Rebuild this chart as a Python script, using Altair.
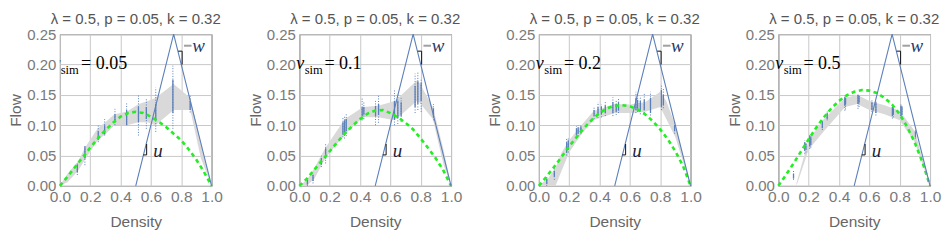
import altair as alt
import pandas as pd

TITLE = "λ = 0.5, p = 0.05, k = 0.32"
VSIM = ["0.05", "0.1", "0.2", "0.5"]

# density grid for the green (model) curves
X_GRID = [0.0, 0.05, 0.1, 0.15, 0.2, 0.25, 0.3, 0.35, 0.4, 0.45, 0.5,
          0.55, 0.6, 0.65, 0.7, 0.75, 0.8, 0.85, 0.9, 0.95, 1.0]
GREEN = [
    [0, 0.015, 0.031, 0.047, 0.063, 0.078, 0.092, 0.104, 0.114, 0.12, 0.122,
     0.12, 0.114, 0.106, 0.097, 0.086, 0.075, 0.06, 0.043, 0.023, 0],
    [0, 0.012, 0.027, 0.042, 0.057, 0.072, 0.086, 0.099, 0.11, 0.119, 0.124,
     0.125, 0.12, 0.113, 0.104, 0.093, 0.078, 0.062, 0.045, 0.025, 0],
    [0, 0.015, 0.031, 0.048, 0.065, 0.081, 0.096, 0.109, 0.12, 0.128, 0.132,
     0.133, 0.131, 0.126, 0.118, 0.107, 0.093, 0.077, 0.057, 0.033, 0],
    [0, 0.018, 0.037, 0.057, 0.077, 0.096, 0.113, 0.128, 0.14, 0.149, 0.155,
     0.158, 0.157, 0.153, 0.145, 0.134, 0.118, 0.097, 0.071, 0.039, 0],
]

# gray band (spread of simulated flow)
BAND_X = [
    [0, 0.05, 0.12, 0.17, 0.25, 0.3, 0.36, 0.44, 0.52, 0.58, 0.63, 0.75, 0.86, 0.93, 1.0],
    [0, 0.05, 0.1, 0.17, 0.3, 0.42, 0.52, 0.63, 0.78, 0.88, 0.95, 1.0],
    [0, 0.06, 0.11, 0.15, 0.2, 0.28, 0.36, 0.5, 0.6, 0.7, 0.8, 0.84, 0.9, 1.0],
    [0.12, 0.2, 0.3, 0.44, 0.52, 0.6, 0.7, 0.8, 0.9, 1.0],
]
BAND_LO = [
    [0, 0.006, 0.025, 0.045, 0.075, 0.085, 0.1, 0.1, 0.105, 0.105, 0.1, 0.125, 0.125, 0.045, 0],
    [0, 0, 0.012, 0.045, 0.085, 0.113, 0.113, 0.108, 0.141, 0.11, 0.035, 0],
    [0, 0, 0, 0.025, 0.055, 0.085, 0.108, 0.12, 0.12, 0.122, 0.13, 0.11, 0.08, 0],
    [0, 0.06, 0.09, 0.13, 0.135, 0.125, 0.118, 0.108, 0.072, 0],
]
BAND_HI = [
    [0, 0.02, 0.04, 0.065, 0.095, 0.105, 0.118, 0.122, 0.135, 0.14, 0.145, 0.168, 0.145, 0.07, 0],
    [0, 0.01, 0.03, 0.062, 0.11, 0.13, 0.132, 0.14, 0.175, 0.13, 0.06, 0],
    [0, 0.012, 0.03, 0.055, 0.075, 0.1, 0.123, 0.135, 0.134, 0.138, 0.155, 0.14, 0.1, 0],
    [0.005, 0.076, 0.11, 0.145, 0.15, 0.14, 0.133, 0.124, 0.09, 0],
]

# simulated points: density, full range (min/max) and dense core (lo/hi)
PT_X = [
    [0.115, 0.165, 0.253, 0.295, 0.363, 0.44, 0.518, 0.57, 0.632, 0.745, 0.859],
    [0.053, 0.09, 0.145, 0.173, 0.287, 0.298, 0.309, 0.414, 0.425, 0.502, 0.522,
     0.627, 0.649, 0.671, 0.763, 0.781, 0.803, 0.884],
    [0.052, 0.102, 0.183, 0.194, 0.248, 0.259, 0.277, 0.364, 0.39, 0.412, 0.438,
     0.488, 0.51, 0.525, 0.64, 0.651, 0.669, 0.695, 0.736, 0.808, 0.821, 0.895],
    [0.1, 0.174, 0.182, 0.207, 0.214, 0.29, 0.322, 0.438, 0.443, 0.525, 0.532,
     0.617, 0.643, 0.752, 0.758, 0.808, 0.815, 0.904],
]
PT_MIN = [
    [0.018, 0.034, 0.072, 0.083, 0.1, 0.1, 0.083, 0.094, 0.089, 0.094, 0.121],
    [0.0, 0.004, 0.031, 0.037, 0.08, 0.078, 0.082, 0.108, 0.11, 0.1, 0.104,
     0.1, 0.102, 0.105, 0.12, 0.125, 0.122, 0.108],
    [0.0, 0.01, 0.05, 0.055, 0.08, 0.082, 0.085, 0.11, 0.112, 0.113, 0.115,
     0.115, 0.117, 0.12, 0.12, 0.122, 0.118, 0.12, 0.116, 0.125, 0.128, 0.086],
    [0.01, 0.053, 0.055, 0.061, 0.063, 0.092, 0.108, 0.124, 0.126, 0.127, 0.13,
     0.122, 0.116, 0.111, 0.113, 0.111, 0.113, 0.078],
]
PT_MAX = [
    [0.039, 0.067, 0.1, 0.11, 0.127, 0.138, 0.149, 0.143, 0.162, 0.198, 0.149],
    [0.012, 0.02, 0.05, 0.07, 0.112, 0.116, 0.119, 0.146, 0.138, 0.14, 0.149,
     0.16, 0.15, 0.145, 0.185, 0.187, 0.178, 0.135],
    [0.015, 0.03, 0.078, 0.08, 0.098, 0.1, 0.102, 0.13, 0.138, 0.135, 0.14,
     0.146, 0.14, 0.145, 0.155, 0.15, 0.148, 0.152, 0.155, 0.168, 0.16, 0.105],
    [0.026, 0.075, 0.072, 0.086, 0.082, 0.108, 0.124, 0.149, 0.147, 0.152, 0.15,
     0.141, 0.141, 0.133, 0.13, 0.135, 0.132, 0.092],
]
PT_LO = [
    [0.022, 0.045, 0.075, 0.085, 0.105, 0.1, 0.105, 0.11, 0.11, 0.12, 0.125],
    [0.002, 0.008, 0.035, 0.045, 0.085, 0.087, 0.09, 0.115, 0.117, 0.115, 0.117,
     0.11, 0.112, 0.115, 0.13, 0.135, 0.14, 0.113],
    [0.003, 0.015, 0.055, 0.06, 0.083, 0.086, 0.088, 0.115, 0.117, 0.118, 0.12,
     0.12, 0.122, 0.124, 0.125, 0.127, 0.124, 0.125, 0.12, 0.13, 0.133, 0.09],
    [0.012, 0.058, 0.06, 0.065, 0.068, 0.095, 0.11, 0.132, 0.134, 0.135, 0.137,
     0.125, 0.12, 0.115, 0.117, 0.115, 0.117, 0.08],
]
PT_HI = [
    [0.035, 0.065, 0.09, 0.1, 0.118, 0.125, 0.13, 0.13, 0.135, 0.175, 0.14],
    [0.01, 0.018, 0.046, 0.062, 0.105, 0.108, 0.11, 0.13, 0.13, 0.132, 0.135,
     0.14, 0.14, 0.138, 0.165, 0.172, 0.17, 0.128],
    [0.012, 0.025, 0.072, 0.075, 0.095, 0.096, 0.098, 0.125, 0.13, 0.13, 0.133,
     0.138, 0.135, 0.138, 0.145, 0.142, 0.14, 0.142, 0.145, 0.158, 0.15, 0.1],
    [0.02, 0.072, 0.07, 0.082, 0.08, 0.106, 0.12, 0.146, 0.145, 0.15, 0.148,
     0.138, 0.138, 0.13, 0.128, 0.132, 0.13, 0.09],
]

# characteristic speeds: u (free flow) and -w (congestion) lines
TRI_X = [0.5, 0.75, 1.0]
TRI_Y = [0.0, 0.25, 0.0]

# callout leaders for u and -w, and the gray dash of "-w"
LEAD_X = [0.55, 0.572, 0.78, 0.806, 0.818]
LEAD_Y = [0.051, 0.051, 0.222, 0.222, 0.231]
LEAD_X2 = [0.572, 0.572, 0.806, 0.806, 0.868]
LEAD_Y2 = [0.051, 0.069, 0.222, 0.2, 0.231]
LEAD_C = ["#111111", "#111111", "#111111", "#111111", "#a0a0a0"]
LEAD_W = [1, 1, 1, 1, 2]

# v_sim label anchor per panel (x of "v", "sim", "= value")
LBL_V = [-0.05, -0.02, -0.02, -0.02]
LBL_SIM = [0.005, 0.035, 0.035, 0.035]
LBL_EQ = [0.14, 0.165, 0.165, 0.165]
LBL_Y = 0.192
LBL_SUB_Y = 0.185

BLUE = "#5b7fb9"
X_TICKS = [0.0, 0.2, 0.4, 0.6, 0.8, 1.0]
Y_TICKS = [0.0, 0.05, 0.1, 0.15, 0.2, 0.25]

xs = alt.Scale(domain=[0, 1], nice=False)
ys = alt.Scale(domain=[0, 0.25], nice=False)

AX_X = alt.Axis(
    values=X_TICKS, format=".1f", title="Density", grid=True,
    gridColor="#c8c8c8", ticks=False, domain=False,
    labelFontSize=15.5, labelColor="#7a7a7a", labelFont="Liberation Sans",
    labelPadding=4, labelFlush=False,
    titleFontSize=15.5, titleFontWeight="normal", titleColor="#666666",
    titleFont="Liberation Sans", titlePadding=9)
AX_Y = alt.Axis(
    values=Y_TICKS, format=".2f", title="Flow", grid=True,
    gridColor="#c8c8c8", ticks=False, domain=False,
    labelFontSize=15, labelColor="#7a7a7a", labelFont="Liberation Sans",
    labelPadding=4, labelFlush=False,
    titleFontSize=15.5, titleFontWeight="normal", titleColor="#666666",
    titleFont="Liberation Sans", titlePadding=3)


def X(f):
    return alt.X(f, scale=xs, axis=AX_X, title="Density")


def Y(f):
    return alt.Y(f, scale=ys, axis=AX_Y, title="Flow")


def panel(i):
    green = pd.DataFrame({"x": X_GRID, "y": GREEN[i]})
    band = pd.DataFrame({"x": BAND_X[i], "lo": BAND_LO[i], "hi": BAND_HI[i]})
    pts = pd.DataFrame({"x": PT_X[i], "mn": PT_MIN[i], "mx": PT_MAX[i],
                        "lo": PT_LO[i], "hi": PT_HI[i]})
    tri = pd.DataFrame({"x": TRI_X, "y": TRI_Y})
    lead = pd.DataFrame({"x": LEAD_X, "y": LEAD_Y, "x2": LEAD_X2, "y2": LEAD_Y2,
                         "c": LEAD_C, "w": LEAD_W})

    base_band = alt.Chart(band).mark_area(color="#d9d9d9", opacity=1).encode(
        x=X("x:Q"), y=Y("lo:Q"), y2="hi:Q")
    dots = alt.Chart(pts).mark_rule(color=BLUE, strokeWidth=1, strokeDash=[1, 1.6]).encode(
        x=X("x:Q"), y=Y("mn:Q"), y2="mx:Q")
    core = alt.Chart(pts).mark_rule(color=BLUE, strokeWidth=1.3).encode(
        x=X("x:Q"), y=Y("lo:Q"), y2="hi:Q")
    gline = alt.Chart(green).mark_line(color="#22ee22", strokeWidth=2.6,
                                       strokeDash=[4, 3.5], strokeCap="butt").encode(
        x=X("x:Q"), y=Y("y:Q"))
    tline = alt.Chart(tri).mark_line(color=BLUE, strokeWidth=1.1).encode(
        x=X("x:Q"), y=Y("y:Q"))
    leads = alt.Chart(lead).mark_rule().encode(
        x=X("x:Q"), x2="x2:Q", y=Y("y:Q"), y2="y2:Q",
        color=alt.Color("c:N", scale=None),
        strokeWidth=alt.StrokeWidth("w:Q", scale=None))

    ann = pd.DataFrame({
        "x": [0.615, 0.872],
        "y": [0.058, 0.231],
        "t": ["u", "w"],
        "c": ["#1c1c3a", "#2a3a6a"],
    })
    ann_t = alt.Chart(ann).mark_text(
        font="Liberation Serif", fontStyle="italic", fontSize=19,
        align="left", baseline="middle").encode(
        x=X("x:Q"), y=Y("y:Q"),
        text="t:N", color=alt.Color("c:N", scale=None))

    clip = (i == 0)
    lbl_v = alt.Chart(pd.DataFrame({"x": [LBL_V[i]], "y": [LBL_Y], "t": ["v"]})).mark_text(
        font="Liberation Serif", fontStyle="italic", fontSize=18, align="left",
        baseline="alphabetic", color="#000000", clip=clip).encode(
        x=X("x:Q"), y=Y("y:Q"), text="t:N")
    lbl_s = alt.Chart(pd.DataFrame({"x": [LBL_SIM[i]], "y": [LBL_SUB_Y], "t": ["sim"]})).mark_text(
        font="Liberation Serif", fontSize=12.5, align="left",
        baseline="alphabetic", color="#000000", clip=clip).encode(
        x=X("x:Q"), y=Y("y:Q"), text="t:N")
    lbl_e = alt.Chart(pd.DataFrame({"x": [LBL_EQ[i]], "y": [LBL_Y], "t": ["= " + VSIM[i]]})).mark_text(
        font="Liberation Serif", fontSize=18, align="left",
        baseline="alphabetic", color="#000000", clip=clip).encode(
        x=X("x:Q"), y=Y("y:Q"), text="t:N")

    return alt.layer(base_band, dots, core, gline, tline, leads, ann_t,
                     lbl_v, lbl_s, lbl_e).properties(
        width=152, height=152,
        title=alt.TitleParams(TITLE, fontSize=15, fontWeight="normal",
                              color="#555555", font="Liberation Sans",
                              anchor="middle", offset=0))


chart = alt.hconcat(*[panel(i) for i in range(4)], spacing=88, bounds="flush").properties(
    padding={"left": 0, "top": 3, "right": 0, "bottom": 0}
).configure_view(stroke="#555555", strokeWidth=1)

chart.save("out.html", embed_options={"renderer": "svg", "actions": False})
